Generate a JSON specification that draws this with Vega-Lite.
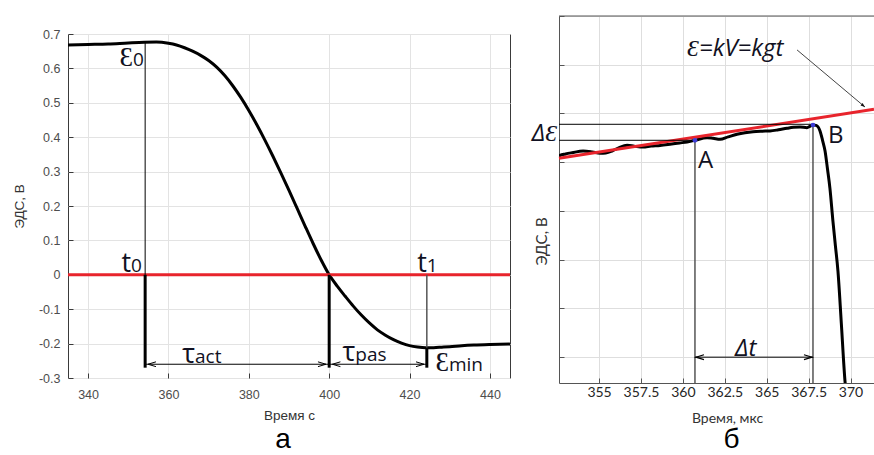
{
  "$schema": "https://vega.github.io/schema/vega-lite/v6.json",
  "background": "white",
  "padding": {"left": 11, "top": 15, "right": 0, "bottom": 0},
  "spacing": 14,
  "config": {
    "view": {"stroke": null},
    "axis": {"titleFontWeight": "normal", "labelFontWeight": "normal", "labelOverlap": false},
    "title": {"fontWeight": "normal", "color": "#000000"}
  },
  "hconcat": [
    {
      "spacing": 0,
      "vconcat": [
        {
          "width": 10,
          "height": 11,
          "data": {"values": []},
          "mark": {"type": "point", "opacity": 0},
          "encoding": {}
        },
        {
          "width": 442,
          "height": 344,
          "view": {"stroke": "#3a3a3a", "strokeWidth": 1},
          "title": {"text": "а", "orient": "bottom", "font": "Liberation Sans", "fontSize": 28, "offset": 4, "dx": -6},
          "layer": [
            {
              "data": {"values": [
                {"t": 335, "v": 0.668}, {"t": 340, "v": 0.6695}, {"t": 345, "v": 0.671}, {"t": 350, "v": 0.674},
                {"t": 354, "v": 0.676}, {"t": 357, "v": 0.6765}, {"t": 360, "v": 0.673}, {"t": 362, "v": 0.668},
                {"t": 364, "v": 0.66}, {"t": 366, "v": 0.65}, {"t": 368, "v": 0.638}, {"t": 370, "v": 0.623},
                {"t": 372, "v": 0.6036}, {"t": 374, "v": 0.5791}, {"t": 376, "v": 0.5496}, {"t": 378, "v": 0.5156},
                {"t": 380, "v": 0.4776}, {"t": 382, "v": 0.4361}, {"t": 384, "v": 0.3916}, {"t": 386, "v": 0.3446},
                {"t": 388, "v": 0.2956}, {"t": 390, "v": 0.2451}, {"t": 392, "v": 0.1936}, {"t": 394, "v": 0.1418},
                {"t": 396, "v": 0.091}, {"t": 398, "v": 0.043}, {"t": 400, "v": 0.0}, {"t": 402, "v": -0.033},
                {"t": 404, "v": -0.0625}, {"t": 406, "v": -0.091}, {"t": 408, "v": -0.117}, {"t": 410, "v": -0.14},
                {"t": 412, "v": -0.16}, {"t": 414, "v": -0.1755}, {"t": 416, "v": -0.1885}, {"t": 418, "v": -0.1985},
                {"t": 420, "v": -0.206}, {"t": 422, "v": -0.21}, {"t": 424, "v": -0.212}, {"t": 426, "v": -0.2118},
                {"t": 428, "v": -0.2105}, {"t": 430, "v": -0.209}, {"t": 433, "v": -0.206}, {"t": 436, "v": -0.204},
                {"t": 440, "v": -0.2025}, {"t": 445, "v": -0.2015}
              ]},
              "mark": {"type": "line", "color": "#000000", "strokeWidth": 3, "interpolate": "monotone"},
              "encoding": {
                "x": {"field": "t", "type": "quantitative", "scale": {"domain": [335, 445], "nice": false},
                  "axis": {"values": [340, 360, 380, 400, 420, 440], "tickCount": 12, "title": "Время с", "grid": true, "gridColor": "#e3e3e3",
                    "domain": false, "tickSize": -5, "tickColor": "#3a3a3a", "labelFont": "Liberation Sans", "labelFontSize": 12.5,
                    "labelColor": "#4d4d4d", "labelPadding": 15, "labelOverlap": false, "titleFont": "Liberation Sans", "titleFontSize": 13.5,
                    "titleColor": "#333333", "titlePadding": 8}},
                "y": {"field": "v", "type": "quantitative", "scale": {"domain": [-0.3, 0.7], "nice": false},
                  "axis": {"values": [-0.3, -0.2, -0.1, 0, 0.1, 0.2, 0.3, 0.4, 0.5, 0.6, 0.7], "tickCount": 12,
                    "labelExpr": "replace(format(datum.value, '.1~f'), '−', '-')", "labelOverlap": false,
                    "title": "ЭДС, В", "grid": true, "gridColor": "#e3e3e3", "domain": false, "tickSize": -5, "tickColor": "#3a3a3a",
                    "labelFont": "Liberation Sans", "labelFontSize": 12.5, "labelColor": "#4d4d4d", "labelPadding": 13,
                    "titleFont": "Liberation Sans", "titleFontSize": 13.5, "titleColor": "#333333", "titlePadding": 12}}
              }
            },
            {
              "data": {"values": [{"v": 0}]},
              "mark": {"type": "rule", "color": "#e8242c", "strokeWidth": 3},
              "encoding": {
                "y": {"field": "v", "type": "quantitative", "scale": {"domain": [-0.3, 0.7], "nice": false}}
              }
            },
            {
              "data": {"values": [{"t": 354.2, "v": 0.677, "v2": 0}]},
              "mark": {"type": "rule", "color": "#000000", "strokeWidth": 1},
              "encoding": {
                "x": {"field": "t", "type": "quantitative", "scale": {"domain": [335, 445], "nice": false}},
                "y": {"field": "v", "type": "quantitative", "scale": {"domain": [-0.3, 0.7], "nice": false}},
                "y2": {"field": "v2"}
              }
            },
            {
              "data": {"values": [{"t": 424.3, "v": 0, "v2": -0.212}]},
              "mark": {"type": "rule", "color": "#555555", "strokeWidth": 1.5},
              "encoding": {
                "x": {"field": "t", "type": "quantitative", "scale": {"domain": [335, 445], "nice": false}},
                "y": {"field": "v", "type": "quantitative", "scale": {"domain": [-0.3, 0.7], "nice": false}},
                "y2": {"field": "v2"}
              }
            },
            {
              "data": {"values": [
                {"t": 354.2, "v": 0, "v2": -0.27},
                {"t": 400, "v": 0, "v2": -0.27},
                {"t": 424.3, "v": -0.212, "v2": -0.27}
              ]},
              "mark": {"type": "rule", "color": "#000000", "strokeWidth": 3},
              "encoding": {
                "x": {"field": "t", "type": "quantitative", "scale": {"domain": [335, 445], "nice": false}},
                "y": {"field": "v", "type": "quantitative", "scale": {"domain": [-0.3, 0.7], "nice": false}},
                "y2": {"field": "v2"}
              }
            },
            {
              "data": {"values": [
                {"t": 354.2, "t2": 400, "v": -0.26},
                {"t": 400, "t2": 424.3, "v": -0.26}
              ]},
              "mark": {"type": "rule", "color": "#000000", "strokeWidth": 1},
              "encoding": {
                "x": {"field": "t", "type": "quantitative", "scale": {"domain": [335, 445], "nice": false}},
                "x2": {"field": "t2"},
                "y": {"field": "v", "type": "quantitative", "scale": {"domain": [-0.3, 0.7], "nice": false}}
              }
            },
            {
              "data": {"values": [{"t": 354.9, "v": -0.26}, {"t": 400.8, "v": -0.26}]},
              "mark": {"type": "point", "shape": "M2,-0.6L0,0L2,0.6", "filled": false, "stroke": "#000000", "strokeWidth": 1, "size": 64, "opacity": 1},
              "encoding": {
                "x": {"field": "t", "type": "quantitative", "scale": {"domain": [335, 445], "nice": false}},
                "y": {"field": "v", "type": "quantitative", "scale": {"domain": [-0.3, 0.7], "nice": false}}
              }
            },
            {
              "data": {"values": [{"t": 399.2, "v": -0.26}, {"t": 423.6, "v": -0.26}]},
              "mark": {"type": "point", "shape": "M-2,-0.6L0,0L-2,0.6", "filled": false, "stroke": "#000000", "strokeWidth": 1, "size": 64, "opacity": 1},
              "encoding": {
                "x": {"field": "t", "type": "quantitative", "scale": {"domain": [335, 445], "nice": false}},
                "y": {"field": "v", "type": "quantitative", "scale": {"domain": [-0.3, 0.7], "nice": false}}
              }
            },
            {
              "data": {"values": [
                {"label": "Ɛ", "t": 351.2, "v": 0.607},
                {"label": "t", "t": 350.7, "v": 0.008},
                {"label": "τ", "t": 366.6, "v": -0.255},
                {"label": "τ", "t": 406.5, "v": -0.252},
                {"label": "t", "t": 424.3, "v": 0.008},
                {"label": "Ɛ", "t": 429.8, "v": -0.28}
              ]},
              "mark": {"type": "text", "font": "Open Sans", "fontSize": 27, "align": "right", "baseline": "alphabetic", "color": "#111122"},
              "encoding": {
                "x": {"field": "t", "type": "quantitative", "scale": {"domain": [335, 445], "nice": false}},
                "y": {"field": "v", "type": "quantitative", "scale": {"domain": [-0.3, 0.7], "nice": false}},
                "text": {"field": "label"}
              }
            },
            {
              "data": {"values": [
                {"label": "0", "t": 351.2, "v": 0.607},
                {"label": "0", "t": 350.7, "v": 0.008},
                {"label": "act", "t": 366.6, "v": -0.255},
                {"label": "pas", "t": 406.5, "v": -0.252},
                {"label": "1", "t": 424.3, "v": 0.008},
                {"label": "min", "t": 429.8, "v": -0.28}
              ]},
              "mark": {"type": "text", "font": "Open Sans", "fontSize": 19, "align": "left", "baseline": "alphabetic", "color": "#111122"},
              "encoding": {
                "x": {"field": "t", "type": "quantitative", "scale": {"domain": [335, 445], "nice": false}},
                "y": {"field": "v", "type": "quantitative", "scale": {"domain": [-0.3, 0.7], "nice": false}},
                "text": {"field": "label"}
              }
            }
          ]
        }
      ]
    },
    {
      "width": 315,
      "height": 367,
      "title": {"text": "б", "orient": "bottom", "font": "Liberation Sans", "fontSize": 28, "offset": 1, "dx": 15},
      "layer": [
        {
          "data": {"values": [
            {"t": 352.61, "v": 4.12}, {"t": 352.67, "v": 4.142}, {"t": 353.0, "v": 4.17}, {"t": 353.39, "v": 4.195},
            {"t": 354.05, "v": 4.23}, {"t": 354.6, "v": 4.21}, {"t": 355.06, "v": 4.183}, {"t": 355.4, "v": 4.19},
            {"t": 355.78, "v": 4.23}, {"t": 356.2, "v": 4.3}, {"t": 356.67, "v": 4.347}, {"t": 357.1, "v": 4.33},
            {"t": 357.62, "v": 4.312}, {"t": 358.1, "v": 4.33}, {"t": 358.64, "v": 4.343}, {"t": 359.23, "v": 4.368},
            {"t": 359.8, "v": 4.395}, {"t": 360.25, "v": 4.415}, {"t": 360.72, "v": 4.45}, {"t": 361.44, "v": 4.503},
            {"t": 361.8, "v": 4.49}, {"t": 362.22, "v": 4.47}, {"t": 362.7, "v": 4.52}, {"t": 363.23, "v": 4.573},
            {"t": 363.7, "v": 4.605}, {"t": 364.18, "v": 4.626}, {"t": 364.7, "v": 4.636}, {"t": 365.2, "v": 4.641},
            {"t": 365.7, "v": 4.665}, {"t": 366.21, "v": 4.696}, {"t": 366.6, "v": 4.715}, {"t": 366.99, "v": 4.723},
            {"t": 367.4, "v": 4.708}, {"t": 367.6, "v": 4.74}, {"t": 367.76, "v": 4.764}, {"t": 367.95, "v": 4.755},
            {"t": 368.18, "v": 4.641}, {"t": 368.33, "v": 4.45}, {"t": 368.48, "v": 4.23}, {"t": 368.63, "v": 3.85},
            {"t": 368.77, "v": 3.47}, {"t": 368.95, "v": 2.793}, {"t": 369.1, "v": 2.28}, {"t": 369.25, "v": 1.766},
            {"t": 369.45, "v": 0.7}, {"t": 369.67, "v": -0.493}, {"t": 369.79, "v": -0.903}
          ]},
          "mark": {"type": "line", "color": "#000000", "strokeWidth": 3, "interpolate": "monotone", "clip": true},
          "encoding": {
            "x": {"field": "t", "type": "quantitative", "scale": {"domain": [352.61, 371.4], "nice": false},
              "axis": {"values": [355, 357.5, 360, 362.5, 365, 367.5, 370], "tickCount": 10, "labelExpr": "'' + datum.value", "labelOverlap": false, "title": "Время, мкс",
                "grid": true, "gridColor": "#dedede", "domain": true, "domainColor": "#555555", "tickSize": -5, "tickColor": "#555555",
                "labelFont": "Lato", "labelFontSize": 14, "labelColor": "#262626", "labelPadding": 7,
                "titleFont": "Lato", "titleFontSize": 14, "titleColor": "#333333", "titlePadding": 12, "titleX": 168}},
            "y": {"field": "v", "type": "quantitative", "scale": {"domain": [-0.53, 7], "nice": false},
              "axis": {"values": [0, 1, 2, 3, 4, 5, 6, 7], "tickCount": 10, "labels": false, "title": "ЭДС, В", "titleY": 225,
                "grid": true, "gridColor": "#dedede", "domain": true, "domainColor": "#555555", "tickSize": -5, "tickColor": "#555555",
                "titleFont": "Lato", "titleFontSize": 15, "titleColor": "#333333", "titlePadding": 9}}
          }
        },
        {
          "data": {"values": [{"v": 7}]},
          "mark": {"type": "rule", "color": "#555555", "strokeWidth": 1},
          "encoding": {
            "y": {"field": "v", "type": "quantitative", "scale": {"domain": [-0.53, 7], "nice": false}}
          }
        },
        {
          "data": {"values": [{"t": 352.61, "v": 4.08}, {"t": 371.4, "v": 5.086}]},
          "mark": {"type": "line", "color": "#e8242c", "strokeWidth": 3},
          "encoding": {
            "x": {"field": "t", "type": "quantitative", "scale": {"domain": [352.61, 371.4], "nice": false}},
            "y": {"field": "v", "type": "quantitative", "scale": {"domain": [-0.53, 7], "nice": false}}
          }
        },
        {
          "data": {"values": [
            {"t": 352.61, "t2": 367.76, "v": 4.778},
            {"t": 352.61, "t2": 360.72, "v": 4.45}
          ]},
          "mark": {"type": "rule", "color": "#000000", "strokeWidth": 1},
          "encoding": {
            "x": {"field": "t", "type": "quantitative", "scale": {"domain": [352.61, 371.4], "nice": false}},
            "x2": {"field": "t2"},
            "y": {"field": "v", "type": "quantitative", "scale": {"domain": [-0.53, 7], "nice": false}}
          }
        },
        {
          "data": {"values": [
            {"t": 360.72, "v": 4.45, "v2": -0.53},
            {"t": 367.76, "v": 4.764, "v2": -0.53}
          ]},
          "mark": {"type": "rule", "color": "#555555", "strokeWidth": 1.5},
          "encoding": {
            "x": {"field": "t", "type": "quantitative", "scale": {"domain": [352.61, 371.4], "nice": false}},
            "y": {"field": "v", "type": "quantitative", "scale": {"domain": [-0.53, 7], "nice": false}},
            "y2": {"field": "v2"}
          }
        },
        {
          "data": {"values": [{"t": 360.72, "t2": 367.76, "v": 0}]},
          "mark": {"type": "rule", "color": "#000000", "strokeWidth": 1},
          "encoding": {
            "x": {"field": "t", "type": "quantitative", "scale": {"domain": [352.61, 371.4], "nice": false}},
            "x2": {"field": "t2"},
            "y": {"field": "v", "type": "quantitative", "scale": {"domain": [-0.53, 7], "nice": false}}
          }
        },
        {
          "data": {"values": [{"t": 360.78, "v": 0}]},
          "mark": {"type": "point", "shape": "M2,-0.6L0,0L2,0.6", "filled": false, "stroke": "#000000", "strokeWidth": 1.2, "size": 64, "opacity": 1},
          "encoding": {
            "x": {"field": "t", "type": "quantitative", "scale": {"domain": [352.61, 371.4], "nice": false}},
            "y": {"field": "v", "type": "quantitative", "scale": {"domain": [-0.53, 7], "nice": false}}
          }
        },
        {
          "data": {"values": [{"t": 367.7, "v": 0}]},
          "mark": {"type": "point", "shape": "M-2,-0.6L0,0L-2,0.6", "filled": false, "stroke": "#000000", "strokeWidth": 1.2, "size": 64, "opacity": 1},
          "encoding": {
            "x": {"field": "t", "type": "quantitative", "scale": {"domain": [352.61, 371.4], "nice": false}},
            "y": {"field": "v", "type": "quantitative", "scale": {"domain": [-0.53, 7], "nice": false}}
          }
        },
        {
          "data": {"values": [{"t": 360.72, "v": 4.45}, {"t": 367.76, "v": 4.764}]},
          "mark": {"type": "point", "filled": true, "color": "#3c3cd8", "size": 22, "opacity": 1},
          "encoding": {
            "x": {"field": "t", "type": "quantitative", "scale": {"domain": [352.61, 371.4], "nice": false}},
            "y": {"field": "v", "type": "quantitative", "scale": {"domain": [-0.53, 7], "nice": false}}
          }
        },
        {
          "data": {"values": [{"t": 366.81, "v": 6.304}, {"t": 370.86, "v": 5.133}]},
          "mark": {"type": "line", "color": "#444444", "strokeWidth": 1},
          "encoding": {
            "x": {"field": "t", "type": "quantitative", "scale": {"domain": [352.61, 371.4], "nice": false}},
            "y": {"field": "v", "type": "quantitative", "scale": {"domain": [-0.53, 7], "nice": false}}
          }
        },
        {
          "data": {"values": [{"t": 370.86, "v": 5.133}]},
          "mark": {"type": "point", "shape": "M0,0L-2.2,-0.8L-2.2,0.8Z", "filled": true, "color": "#111111", "size": 16, "angle": 40, "opacity": 1},
          "encoding": {
            "x": {"field": "t", "type": "quantitative", "scale": {"domain": [352.61, 371.4], "nice": false}},
            "y": {"field": "v", "type": "quantitative", "scale": {"domain": [-0.53, 7], "nice": false}}
          }
        },
        {
          "data": {"values": [{"label": "ΔƐ", "t": 352.5, "v": 4.435}]},
          "mark": {"type": "text", "font": "Open Sans", "fontStyle": "italic", "fontSize": 24, "align": "right", "baseline": "alphabetic", "color": "#111122"},
          "encoding": {
            "x": {"field": "t", "type": "quantitative", "scale": {"domain": [352.61, 371.4], "nice": false}},
            "y": {"field": "v", "type": "quantitative", "scale": {"domain": [-0.53, 7], "nice": false}},
            "text": {"field": "label"}
          }
        },
        {
          "data": {"values": [
            {"label": "Ɛ=kV=kgt", "t": 360.25, "v": 6.18},
            {"label": "Δt", "t": 363.11, "v": 0.02}
          ]},
          "mark": {"type": "text", "font": "Open Sans", "fontStyle": "italic", "fontSize": 24, "align": "left", "baseline": "alphabetic", "color": "#111122"},
          "encoding": {
            "x": {"field": "t", "type": "quantitative", "scale": {"domain": [352.61, 371.4], "nice": false}},
            "y": {"field": "v", "type": "quantitative", "scale": {"domain": [-0.53, 7], "nice": false}},
            "text": {"field": "label"}
          }
        },
        {
          "data": {"values": [
            {"label": "A", "t": 360.9, "v": 3.88},
            {"label": "B", "t": 368.66, "v": 4.394}
          ]},
          "mark": {"type": "text", "font": "Open Sans", "fontSize": 24, "align": "left", "baseline": "alphabetic", "color": "#111122"},
          "encoding": {
            "x": {"field": "t", "type": "quantitative", "scale": {"domain": [352.61, 371.4], "nice": false}},
            "y": {"field": "v", "type": "quantitative", "scale": {"domain": [-0.53, 7], "nice": false}},
            "text": {"field": "label"}
          }
        }
      ]
    }
  ]
}
